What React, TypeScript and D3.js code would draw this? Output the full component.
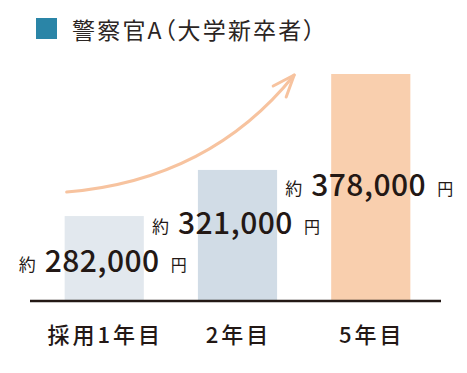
import React from "react";
import { scaleBand, scalePow, path } from "d3";

const categories = ["採用1年目", "2年目", "5年目"];
const salaries = [282000, 321000, 378000];
const barColors = ["#e2e8ee", "#d1dce6", "#f9cfae"];
const legendLabel = "警察官A（大学新卒者）";

const W = 467;
const H = 373;
const baseY = 300;
const ink = "#231815";
const font = "'Noto Sans CJK JP', 'Noto Sans', sans-serif";

function App() {
  const x = scaleBand<string>()
    .domain(categories)
    .range([38, 437])
    .paddingInner(0.406)
    .paddingOuter(0.2);

  // the picture's bars grow much faster than the values, so a power scale
  const y = scalePow()
    .exponent(3.38)
    .domain([0, 378000])
    .range([baseY, 74]);

  const fmt = (v: number) => v.toLocaleString("en-US");

  // decorative arrow, from above the first bar toward the last one
  const x0 = x(categories[0])! + 2;
  const y0 = y(salaries[0]) - 24;
  const x1 = x(categories[2])! - 37;
  const y1 = y(salaries[2]) + 1;
  const arrow = path();
  arrow.moveTo(x0, y0);
  arrow.quadraticCurveTo(x0 + 143, y0 - 12, x1, y1);
  const head = path();
  head.moveTo(x1 - 21, y1 + 11);
  head.lineTo(x1, y1);
  head.lineTo(x1 - 8, y1 + 22);

  return (
    <svg
      width={W}
      height={H}
      style={{ position: "absolute", left: 0, top: 0, display: "block", background: "#fff" }}
      fontFamily={font}
    >
      <rect x={36} y={18} width={21} height={21} fill="#2a85a7" />
      <text
        x={72}
        y={39}
        fontSize={23}
        letterSpacing={2.2}
        fill="#2b2523"
        style={{ fontFeatureSettings: "'palt'" }}
      >
        {legendLabel}
      </text>

      {categories.map((c, i) => (
        <rect
          key={c}
          x={x(c)}
          y={y(salaries[i])}
          width={x.bandwidth()}
          height={baseY - y(salaries[i])}
          fill={barColors[i]}
        />
      ))}

      <path d={arrow.toString()} fill="none" stroke="#f7c39f" strokeWidth={3} strokeLinecap="round" />
      <path d={head.toString()} fill="none" stroke="#f7c39f" strokeWidth={3} strokeLinecap="round" strokeLinejoin="round" />

      <line x1={30} x2={441} y1={baseY + 1} y2={baseY + 1} stroke={ink} strokeWidth={2.5} />

      {categories.map((c, i) => {
        const nx = x(c)! - 20;
        const ny = 272 - 38 * i;
        return (
          <g key={c + "-lab"} fill={ink}>
            <text x={nx - 9} y={ny - 1} fontSize={17} textAnchor="end">約</text>
            <text x={nx} y={ny} fontSize={30} fontWeight={500} letterSpacing={0.5}>
              {fmt(salaries[i])}
              <tspan dx={11} dy={-1} fontSize={16} fontWeight={400}>円</tspan>
            </text>
          </g>
        );
      })}

      {categories.map((c) => (
        <text
          key={c + "-x"}
          x={x(c)! + x.bandwidth() / 2 + 1}
          y={343}
          fontSize={22}
          fontWeight={500}
          letterSpacing={3}
          textAnchor="middle"
          fill={ink}
        >
          {c}
        </text>
      ))}
    </svg>
  );
}

export default App;
